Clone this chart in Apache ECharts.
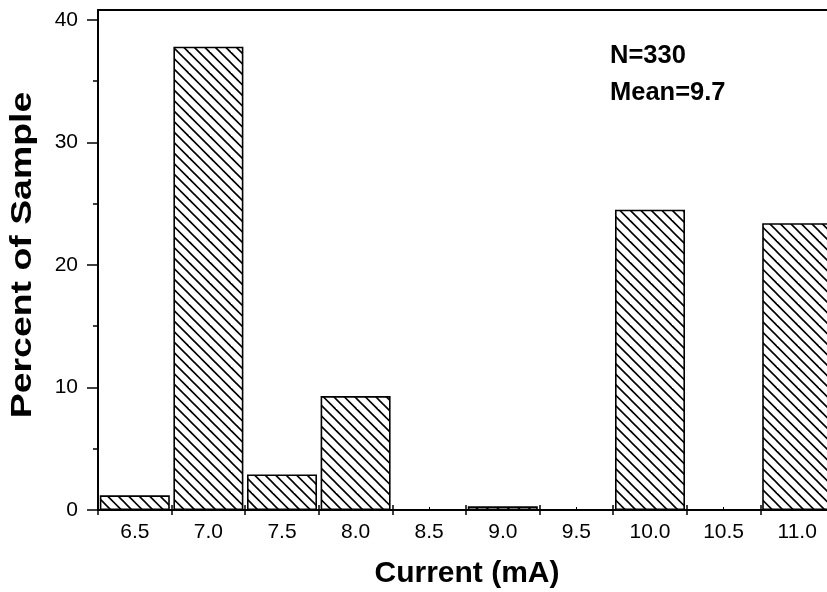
<!DOCTYPE html>
<html><head><meta charset="utf-8">
<script src="https://cdn.jsdelivr.net/npm/echarts@6/dist/echarts.min.js"></script>
<style>html,body{margin:0;padding:0;background:#fff}#c{width:827px;height:592px}</style>
</head><body><div id="c"></div>
<script>
const categories = ['6.5','7.0','7.5','8.0','8.5','9.0','9.5','10.0','10.5','11.0'];
const percentValues = [1.2, 37.8, 2.9, 9.3, 0, 0.3, 0, 24.5, 0, 23.4];
const yTickValues = [0, 10, 20, 30, 40];
const yMinorTickValues = [5, 15, 25, 35];
const annotations = ['N=330', 'Mean=9.7'];
const xTitle = 'Current (mA)';
const yTitle = 'Percent of Sample';

const FONT = '"Liberation Sans", Arial, sans-serif';

// hatch pattern "\\\\"
function makeHatch() {
  const s = 21;
  const cv = document.createElement('canvas');
  cv.width = s; cv.height = s;
  const ctx = cv.getContext('2d');
  ctx.fillStyle = '#fff';
  ctx.fillRect(0, 0, s, s);
  ctx.strokeStyle = '#000';
  ctx.lineWidth = 1.6;
  [-21, -10.5, 0, 10.5, 21].forEach(c => {
    ctx.beginPath();
    ctx.moveTo(-2, -2 + c);
    ctx.lineTo(s + 2, s + 2 + c);
    ctx.stroke();
  });
  return cv;
}
const hatch = makeHatch();

const chart = echarts.init(document.getElementById('c'), null, {renderer: 'canvas'});
const lineStyle = {color: '#000', width: 2};
const option = {
  backgroundColor: '#fff',
  animation: false,
  grid: {left: 98, top: 10, width: 736, bottom: 82, containLabel: false, outerBoundsMode: 'none'},
  xAxis: [
    {
      type: 'category', data: categories, position: 'bottom', boundaryGap: true,
      axisLine: {show: true, onZero: false, lineStyle: lineStyle},
      axisTick: {show: true, inside: false, length: 5, interval: 0, lineStyle: {color: '#000', width: 1.5}},
      axisLabel: {show: true, interval: 0, margin: 12, color: '#000', fontSize: 21, fontFamily: FONT},
      splitLine: {show: false}
    },
    {
      type: 'category', data: categories, position: 'bottom', boundaryGap: true,
      axisLine: {show: false, onZero: false},
      axisTick: {show: true, inside: true, length: 5, interval: 0, lineStyle: {color: '#000', width: 1.5}},
      axisLabel: {show: false}, splitLine: {show: false}
    },
    {
      type: 'category', data: categories, position: 'bottom', boundaryGap: true,
      axisLine: {show: false, onZero: false},
      axisTick: {show: true, inside: true, length: 3, interval: 0, alignWithLabel: true, lineStyle: {color: '#000', width: 1}},
      axisLabel: {show: false}, splitLine: {show: false}
    },
    {
      type: 'category', data: categories, position: 'top', boundaryGap: true,
      axisLine: {show: true, onZero: false, lineStyle: lineStyle},
      axisTick: {show: false}, axisLabel: {show: false}, splitLine: {show: false}
    }
  ],
  yAxis: [
    {
      type: 'value', min: 0, max: 40.8, interval: 10, position: 'left',
      axisLine: {show: true, onZero: false, lineStyle: lineStyle},
      axisTick: {show: true, inside: false, length: 11, customValues: yTickValues, lineStyle: {color: '#000', width: 1.5}},
      axisLabel: {show: true, margin: 20, customValues: yTickValues, color: '#000', fontSize: 21, fontFamily: FONT},
      splitLine: {show: false}
    },
    {
      type: 'value', min: 0, max: 40.8, interval: 10, position: 'left',
      axisLine: {show: false, onZero: false},
      axisTick: {show: true, inside: false, length: 5, customValues: yMinorTickValues, lineStyle: {color: '#000', width: 1.5}},
      axisLabel: {show: false}, splitLine: {show: false}
    }
  ],
  series: [{
    type: 'bar', xAxisIndex: 0, yAxisIndex: 0,
    data: percentValues,
    barWidth: 70,
    itemStyle: {color: {image: hatch, repeat: 'repeat'}, borderColor: '#000', borderWidth: 1.6},
    emphasis: {disabled: true}
  }],
  graphic: [
    {type: 'text', x: 467, y: 574, style: {text: xTitle, font: 'bold 30px ' + FONT, fill: '#000', align: 'center', verticalAlign: 'middle'}},
    {type: 'text', x: 23, y: 255, rotation: Math.PI / 2, scaleX: 1.29, style: {text: yTitle, font: 'bold 29px ' + FONT, fill: '#000', align: 'center', verticalAlign: 'middle'}},
    {type: 'text', x: 610, y: 56, style: {text: annotations[0], font: 'bold 25.5px ' + FONT, fill: '#000', align: 'left', verticalAlign: 'middle'}},
    {type: 'text', x: 610, y: 93, style: {text: annotations[1], font: 'bold 25.5px ' + FONT, fill: '#000', align: 'left', verticalAlign: 'middle'}}
  ]
};
chart.setOption(option);
</script>
</body></html>
